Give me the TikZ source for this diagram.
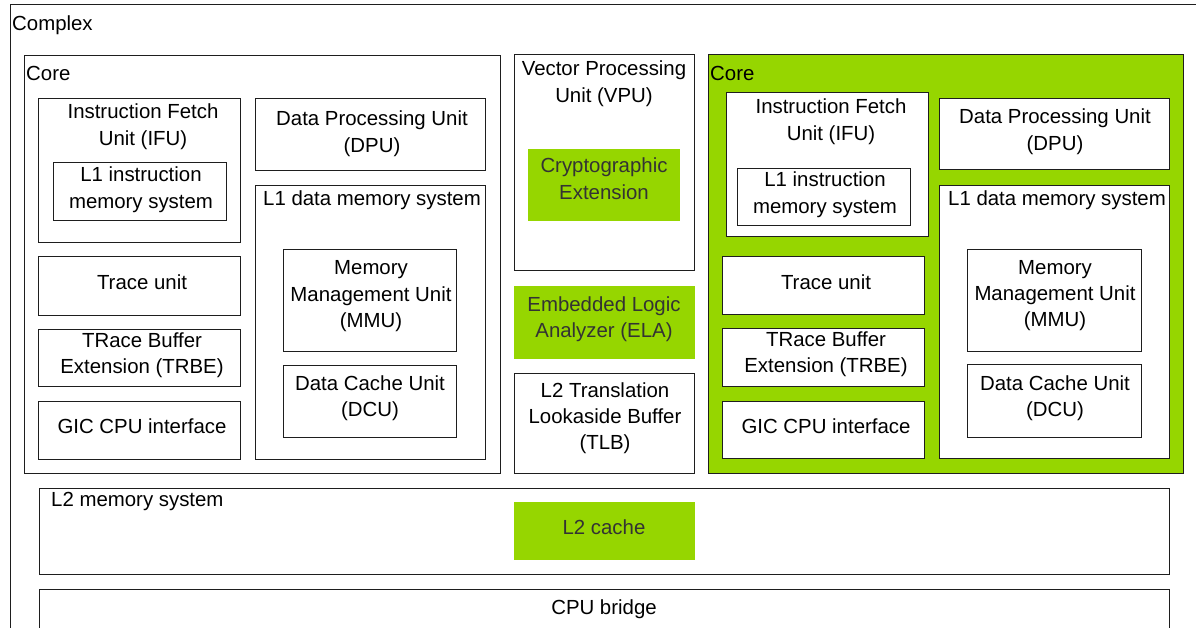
\documentclass[tikz,border=0pt]{standalone}
\usepackage{fontspec}
\setmainfont{Liberation Sans}
\definecolor{armgreen}{RGB}{150,214,0}
\definecolor{gtext}{RGB}{51,51,51}
\definecolor{edge}{RGB}{30,30,30}
\newcommand{\ml}[1]{\begin{tabular}[t]{@{}c@{}}#1\end{tabular}}
\tikzset{
  box/.style={draw=edge, line width=1pt, fill=white},
  gbox/.style={fill=armgreen},
  gcore/.style={draw=edge, line width=1pt, fill=armgreen},
  txt/.style={inner sep=0pt, anchor=base, text=black},
  ltxt/.style={inner sep=0pt, anchor=base west, text=black},
  gtxt/.style={inner sep=0pt, anchor=base, text=gtext},
}
\begin{document}
\begin{tikzpicture}[x=1pt, y=-1pt, font=\fontsize{20.4}{26.2}\selectfont]
\useasboundingbox (0,0) rectangle (1196,628);
\fill[white] (0,0) rectangle (1196,628);
\begin{scope}
  \clip (0,0) rectangle (1196,628);
  \draw[box] (10,5) rectangle (1260,700);
  \draw[box] (39,589) rectangle (1169,700);
\end{scope}
\node[ltxt] (complex) at (12,31) {Complex};

% ---------- left core ----------
\draw[box] (24,56) rectangle (500,473);
\node[ltxt] (coreL) at (26,81) {Core};
\draw[box] (38,99) rectangle (240,243);
\node[txt] (ifuL) at (143,119) {\ml{Instruction Fetch\\Unit (IFU)}};
\draw[box] (53,163) rectangle (226,221);
\node[txt] (l1iL) at (141,182) {\ml{L1 instruction\\memory system}};
\draw[box] (255,99) rectangle (485,171);
\node[txt] (dpuL) at (372,126) {\ml{Data Processing Unit\\(DPU)}};
\draw[box] (255,186) rectangle (485,459);
\node[txt] (l1dL) at (372,206) {L1 data memory system};
\draw[box] (283,250) rectangle (456,351);
\node[txt] (mmuL) at (371,275) {\ml{Memory\\Management Unit\\(MMU)}};
\draw[box] (283,365) rectangle (456,437);
\node[txt] (dcuL) at (370,390) {\ml{Data Cache Unit\\(DCU)}};
\draw[box] (38,257) rectangle (240,315);
\node[txt] (traceL) at (142,289) {Trace unit};
\draw[box] (38,329) rectangle (240,386);
\node[txt] (trbeL) at (142,347) {\ml{TRace Buffer\\Extension (TRBE)}};
\draw[box] (38,401) rectangle (240,459);
\node[txt] (gicL) at (142,433) {GIC CPU interface};

% ---------- middle column ----------
\draw[box] (514,55) rectangle (694,271);
\node[txt] (vpu) at (604,76) {\ml{Vector Processing\\Unit (VPU)}};
\fill[gbox] (528,149) rectangle (680,221);
\node[gtxt] (crypto) at (604,173) {\ml{Cryptographic\\Extension}};
\fill[gbox] (514,286) rectangle (695,359);
\node[gtxt] (ela) at (604,311) {\ml{Embedded Logic\\Analyzer (ELA)}};
\draw[box] (514,373) rectangle (694,473);
\node[txt] (tlb) at (605,397) {\ml{L2 Translation\\Lookaside Buffer\\(TLB)}};

% ---------- right core ----------
\draw[gcore] (708,55) rectangle (1183,473);
\node[ltxt] (coreR) at (710,81) {Core};
\draw[box] (726,93) rectangle (928,237);
\node[txt] (ifuR) at (831,114) {\ml{Instruction Fetch\\Unit (IFU)}};
\draw[box] (737,169) rectangle (910,226);
\node[txt] (l1iR) at (825,187) {\ml{L1 instruction\\memory system}};
\draw[box] (939,99) rectangle (1169,170);
\node[txt] (dpuR) at (1055,124) {\ml{Data Processing Unit\\(DPU)}};
\draw[box] (939,186) rectangle (1169,458);
\node[txt] (l1dR) at (1057,206) {L1 data memory system};
\draw[box] (967,250) rectangle (1141,351);
\node[txt] (mmuR) at (1055,274) {\ml{Memory\\Management Unit\\(MMU)}};
\draw[box] (967,364) rectangle (1141,437);
\node[txt] (dcuR) at (1055,390) {\ml{Data Cache Unit\\(DCU)}};
\draw[box] (722,257) rectangle (924,314);
\node[txt] (traceR) at (826,289) {Trace unit};
\draw[box] (722,328) rectangle (924,386);
\node[txt] (trbeR) at (826,346) {\ml{TRace Buffer\\Extension (TRBE)}};
\draw[box] (722,401) rectangle (924,458);
\node[txt] (gicR) at (826,433) {GIC CPU interface};

% ---------- bottom ----------
\draw[box] (39,488) rectangle (1169,574);
\node[ltxt] (l2mem) at (51,506) {L2 memory system};
\fill[gbox] (514,502) rectangle (695,560);
\node[gtxt] (l2cache) at (604,534) {L2 cache};
\node[txt] (bridge) at (604,614) {CPU bridge};
\end{tikzpicture}
\end{document}
